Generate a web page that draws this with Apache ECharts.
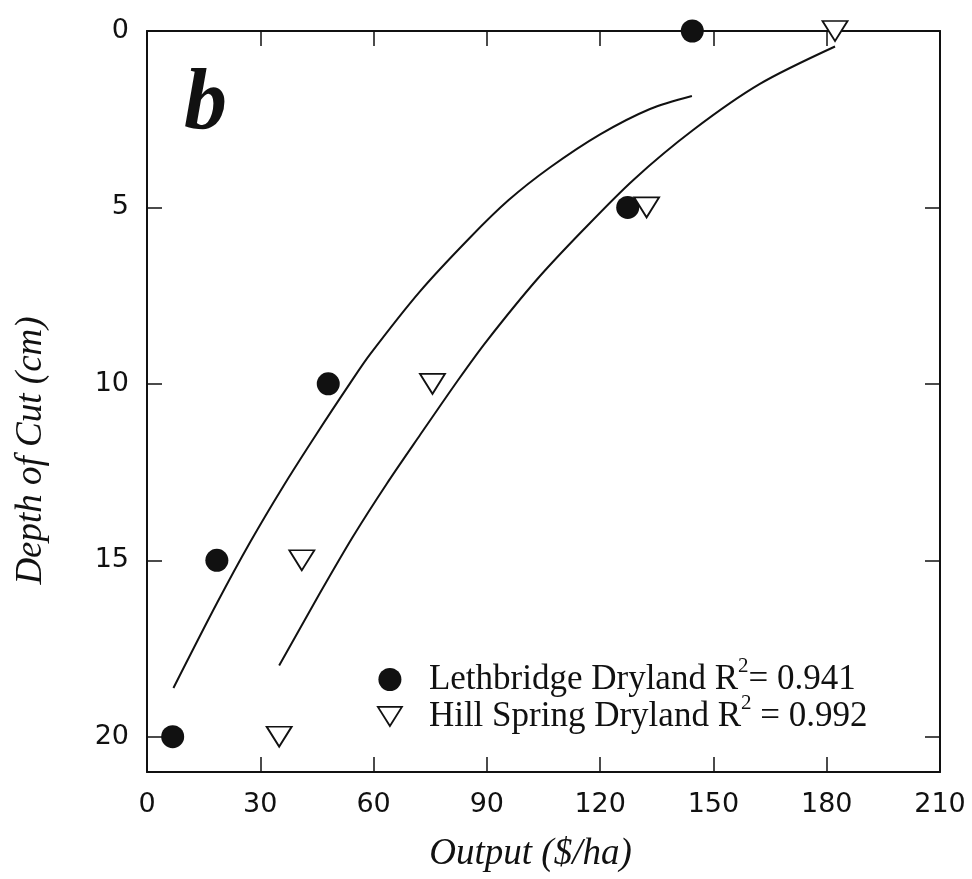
<!DOCTYPE html>
<html>
<head>
<meta charset="utf-8">
<script src="https://cdn.jsdelivr.net/npm/echarts@6/dist/echarts.min.js"></script>
<style>
html,body{margin:0;padding:0;background:#fff;}
#chart{width:972px;height:879px;}
</style>
</head>
<body>
<div id="chart"></div>
<script>
// Measured depths (cm) and outputs ($/ha)
const depths = [0, 5, 10, 15, 20];
const lethbridgeOutput = [144.4, 127.3, 48.0, 18.5, 6.8];
const hillSpringOutput = [182.2, 132.3, 75.6, 41.0, 35.0];

// Fitted curves
const lethCurveX = [7.0, 18.5, 27.3, 36.1, 44.9, 53.8, 59.1, 72.3, 85.5, 95.7, 106.7, 120.0, 133.2, 144.3];
const lethCurveY = [18.62, 16.22, 14.49, 12.90, 11.42, 9.98, 9.16, 7.38, 5.86, 4.80, 3.87, 2.93, 2.21, 1.84];
const hillCurveX = [35.0, 45.8, 54.6, 63.5, 72.3, 82.4, 90.0, 103.2, 115.5, 128.8, 144.7, 162.3, 182.2];
const hillCurveY = [17.98, 15.93, 14.32, 12.83, 11.45, 9.89, 8.78, 7.05, 5.64, 4.22, 2.80, 1.50, 0.44];

const seriesNames = ['Lethbridge Dryland', 'Hill Spring Dryland'];
const r2Values = ['0.941', '0.992'];
const r2Sep = ['= ', ' = '];

const xTicks = { min: 0, max: 210, interval: 30 };
const yTicks = { min: 0, max: 21, interval: 5 };

const ink = '#111';
const serif = '"Liberation Serif", "Times New Roman", serif';
const sans = '"DejaVu Sans", sans-serif';

const pairs = (xs, ys) => xs.map((x, i) => [x, ys[i]]);

const chart = echarts.init(document.getElementById('chart'), null, {renderer: 'canvas'});

const axisCommon = {
  type: 'value',
  axisLine: {show: true, onZero: false, lineStyle: {color: ink, width: 2}},
  axisTick: {show: true, inside: true, length: 15, lineStyle: {color: ink, width: 1.5}},
  splitLine: {show: false}
};

const triangleStyle = {color: '#fff', borderColor: ink, borderWidth: 1.8, opacity: 1};

chart.setOption({
  backgroundColor: '#fff',
  animation: false,
  grid: {left: 147, top: 31, right: 32, bottom: 107, containLabel: false},
  xAxis: [
    Object.assign({}, axisCommon, {
      position: 'bottom', min: xTicks.min, max: xTicks.max, interval: xTicks.interval,
      axisLabel: {show: true, margin: 19, color: ink, fontFamily: sans, fontSize: 27},
      name: 'Output ($/ha)', nameLocation: 'middle', nameGap: 64,
      nameTextStyle: {fontFamily: serif, fontStyle: 'italic', fontSize: 37, color: ink, padding: [0, 26, 0, 0]}
    }),
    Object.assign({}, axisCommon, {
      position: 'top', min: xTicks.min, max: xTicks.max, interval: xTicks.interval,
      axisLabel: {show: false}
    })
  ],
  yAxis: [
    Object.assign({}, axisCommon, {
      position: 'left', inverse: true, min: yTicks.min, max: yTicks.max, interval: yTicks.interval,
      axisLabel: {show: true, margin: 18, color: ink, fontFamily: sans, fontSize: 27,
        formatter: v => (v % 5 === 0 ? String(v) : '')},
      name: 'Depth of Cut (cm)', nameLocation: 'middle', nameGap: 97,
      nameTextStyle: {fontFamily: serif, fontStyle: 'italic', fontSize: 37, color: ink, padding: [0, 98, 0, 0]}
    }),
    Object.assign({}, axisCommon, {
      position: 'right', inverse: true, min: yTicks.min, max: yTicks.max, interval: yTicks.interval,
      axisLabel: {show: false}
    })
  ],
  legend: {
    orient: 'vertical', left: 372, top: 651, itemWidth: 24, itemHeight: 23, itemGap: -4,
    selectedMode: false,
    data: [
      {name: seriesNames[0], icon: 'circle', itemStyle: {color: ink, opacity: 1}},
      {name: seriesNames[1], icon: 'path://M0,0L25,0L12.5,20Z', itemStyle: triangleStyle}
    ],
    formatter: name => {
      const i = seriesNames.indexOf(name);
      return '{f|' + name + ' R}{s|2}{t|' + r2Sep[i] + r2Values[i] + '}';
    },
    textStyle: {
      color: ink, fontFamily: serif, fontSize: 35,
      rich: {
        f: {fontFamily: serif, fontSize: 35, color: ink, lineHeight: 35, padding: [0, 0, 0, 22]},
        s: {fontFamily: serif, fontSize: 21, color: ink, lineHeight: 35, verticalAlign: 'top', padding: [-6, 0, 0, 0]},
        t: {fontFamily: serif, fontSize: 35, color: ink, lineHeight: 35}
      }
    }
  },
  graphic: [
    {type: 'text', left: 184, top: 63, silent: true,
     style: {text: 'b', fontFamily: serif, fontStyle: 'italic', fontWeight: 'bold', fontSize: 86, fill: ink}}
  ],
  series: [
    {type: 'line', name: 'Lethbridge fit', data: pairs(lethCurveX, lethCurveY), smooth: 0.3,
     showSymbol: false, symbol: 'none', lineStyle: {color: ink, width: 2}, z: 2, silent: true},
    {type: 'line', name: 'Hill Spring fit', data: pairs(hillCurveX, hillCurveY), smooth: 0.3,
     showSymbol: false, symbol: 'none', lineStyle: {color: ink, width: 2}, z: 2, silent: true},
    {type: 'scatter', name: seriesNames[0], data: pairs(lethbridgeOutput, depths),
     symbol: 'circle', symbolSize: 23, itemStyle: {color: ink, opacity: 1}, z: 3},
    {type: 'scatter', name: seriesNames[1], data: pairs(hillSpringOutput, depths),
     symbol: 'triangle', symbolSize: [25, 20], symbolRotate: 180,
     itemStyle: triangleStyle, z: 4}
  ]
});
</script>
</body>
</html>
